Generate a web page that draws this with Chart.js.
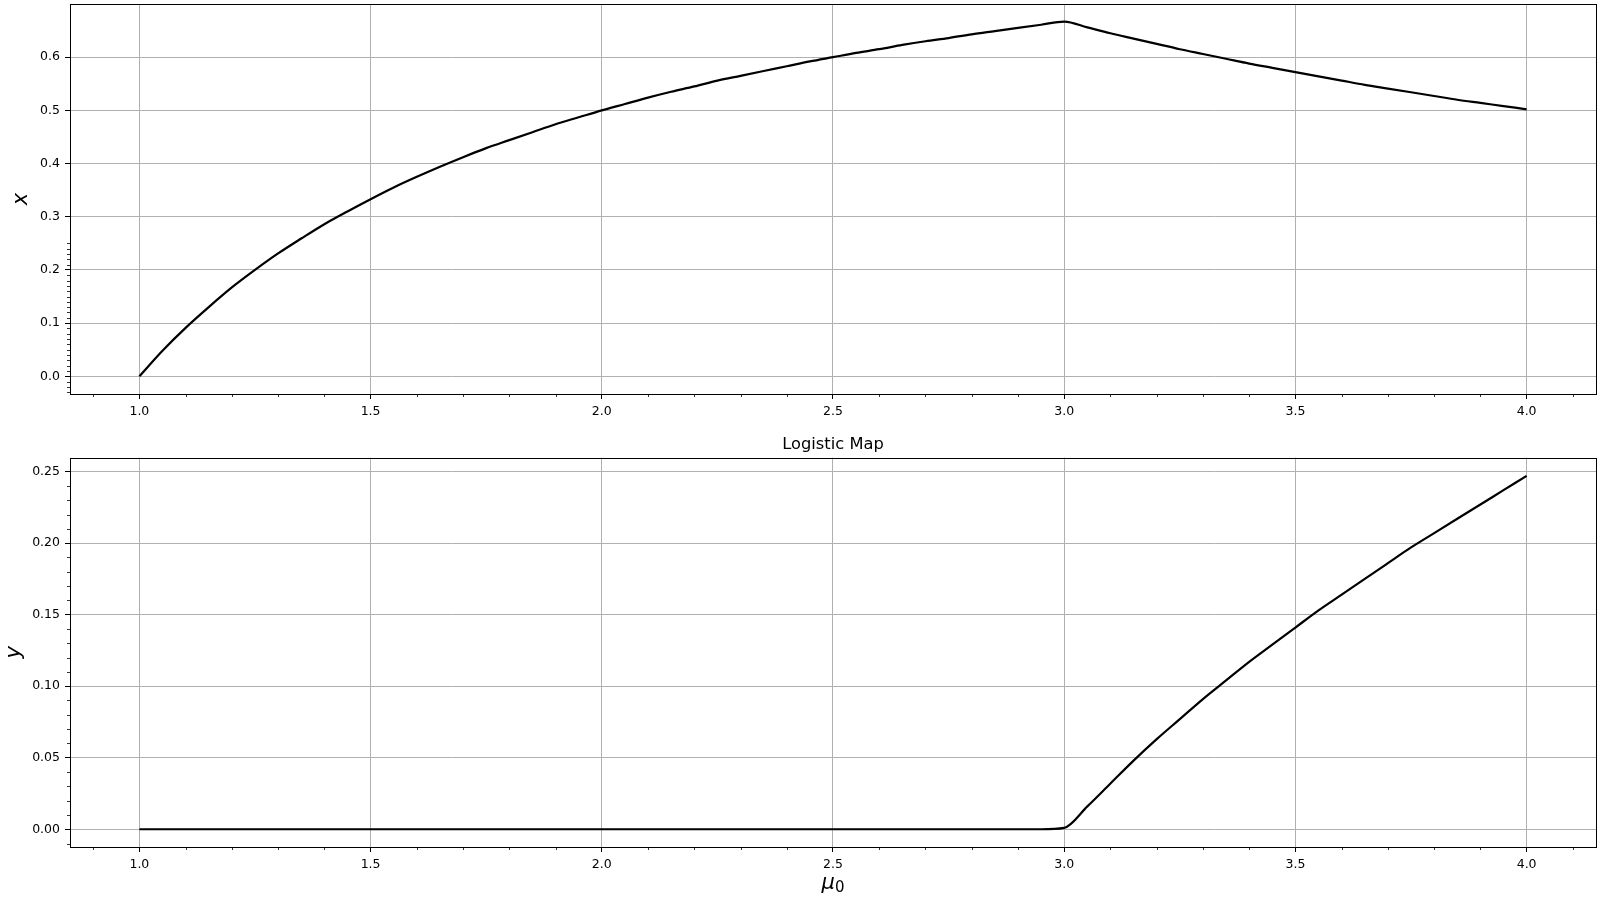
<!DOCTYPE html>
<html>
<head>
<meta charset="utf-8">
<script src="https://cdn.jsdelivr.net/npm/chart.js@4.4.1/dist/chart.umd.min.js"></script>
<style>
  html, body { margin: 0; padding: 0; background: #fff; }
  #wrap { position: relative; width: 1600px; height: 900px; }
  canvas { position: absolute; left: 0; }
  #topChart { top: 0; }
  #bottomChart { top: 420px; }
</style>
</head>
<body>
<div id="wrap">
  <canvas id="topChart" width="1600" height="420"></canvas>
  <canvas id="bottomChart" width="1600" height="480"></canvas>
</div>
<script>
// mu_0 samples
const mu = [
  1.00, 1.05, 1.10, 1.15, 1.20, 1.25, 1.30, 1.35, 1.40, 1.45,
  1.50, 1.55, 1.60, 1.65, 1.70, 1.75, 1.80, 1.85, 1.90, 1.95,
  2.00, 2.05, 2.10, 2.15, 2.20, 2.25, 2.30, 2.35, 2.40, 2.45,
  2.50, 2.55, 2.60, 2.65, 2.70, 2.75, 2.80, 2.85, 2.90, 2.95,
  3.00, 3.05, 3.10, 3.15, 3.20, 3.25, 3.30, 3.35, 3.40, 3.45,
  3.50, 3.55, 3.60, 3.65, 3.70, 3.75, 3.80, 3.85, 3.90, 3.95,
  4.00
];
// top panel (x)
const xValues = [
  0.000, 0.048, 0.091, 0.130, 0.167, 0.200, 0.231, 0.259, 0.286, 0.310,
  0.333, 0.355, 0.375, 0.394, 0.412, 0.429, 0.444, 0.459, 0.474, 0.487,
  0.500, 0.512, 0.524, 0.535, 0.545, 0.556, 0.565, 0.574, 0.583, 0.592,
  0.600, 0.608, 0.615, 0.623, 0.630, 0.636, 0.643, 0.649, 0.655, 0.661,
  0.667, 0.656, 0.645, 0.635, 0.625, 0.615, 0.606, 0.597, 0.588, 0.580,
  0.572, 0.564, 0.556, 0.548, 0.541, 0.534, 0.527, 0.520, 0.514, 0.508,
  0.502
];
// bottom panel (y)
const yValues = [
  0, 0, 0, 0, 0, 0, 0, 0, 0, 0,
  0, 0, 0, 0, 0, 0, 0, 0, 0, 0,
  0, 0, 0, 0, 0, 0, 0, 0, 0, 0,
  0, 0, 0, 0, 0, 0, 0, 0, 0, 0,
  0.001, 0.016, 0.032, 0.048, 0.063, 0.077, 0.091, 0.104, 0.117, 0.129,
  0.141, 0.153, 0.164, 0.175, 0.186, 0.197, 0.207, 0.217, 0.227, 0.237,
  0.247
];

const muTicks = [1.0, 1.5, 2.0, 2.5, 3.0, 3.5, 4.0];
const xTicks = [0.0, 0.1, 0.2, 0.3, 0.4, 0.5, 0.6];
const yTicks = [0.00, 0.05, 0.10, 0.15, 0.20, 0.25];

const muLabel = ['μ', '0'];   // mu with subscript 0

Chart.defaults.font.family = "'DejaVu Sans', sans-serif";
Chart.defaults.color = '#000';

function minorTicks(from, to, step, majorStep) {
  const out = [];
  const every = Math.round(majorStep / step);
  for (let i = Math.round(from / step); i <= Math.round(to / step); i++) {
    if (i % every !== 0) out.push(i * step);
  }
  return out;
}

// spines + minor ticks, matplotlib style
const framePlugin = {
  id: 'frame',
  afterDraw(chart, args, opts) {
    const { ctx, chartArea: a, scales } = chart;
    ctx.save();
    ctx.strokeStyle = '#000';
    ctx.lineWidth = 0.8;
    ctx.beginPath();
    opts.xMinor.forEach(v => {
      const px = Math.round(scales.x.getPixelForValue(v)) + 0.5;
      ctx.moveTo(px, a.bottom);
      ctx.lineTo(px, a.bottom + 3);
    });
    opts.yMinor.forEach(v => {
      const py = Math.round(scales.y.getPixelForValue(v)) + 0.5;
      ctx.moveTo(a.left, py);
      ctx.lineTo(a.left - 3, py);
    });
    ctx.stroke();
    ctx.lineWidth = 1;
    ctx.strokeRect(Math.round(a.left) + 0.5, Math.round(a.top) + 0.5,
                   Math.round(a.right - a.left), Math.round(a.bottom - a.top));

    if (opts.subLabel) {
      const cx = (a.left + a.right) / 2;
      const base = chart.height - 11;
      ctx.fillStyle = '#000';
      ctx.textBaseline = 'alphabetic';
      ctx.textAlign = 'left';
      const bigFont = "italic 21px 'DejaVu Sans'";
      const smallFont = "15px 'DejaVu Sans'";
      ctx.font = bigFont;
      const w1 = ctx.measureText(opts.subLabel[0]).width;
      ctx.font = smallFont;
      const w2 = ctx.measureText(opts.subLabel[1]).width;
      const x0 = cx - (w1 + w2) / 2;
      ctx.font = bigFont;
      ctx.fillText(opts.subLabel[0], x0, base);
      ctx.font = smallFont;
      ctx.fillText(opts.subLabel[1], x0 + w1, base + 3);
    }
    ctx.restore();
  }
};

const gridOpts = {
  color: '#b0b0b0', lineWidth: 1,
  tickColor: '#000', tickWidth: 1, tickLength: 5, drawTicks: true
};

function makeChart(id, values, cfg) {
  return new Chart(document.getElementById(id), {
    type: 'line',
    data: {
      datasets: [{
        data: mu.map((m, i) => ({ x: m, y: values[i] })),
        borderColor: '#000',
        borderWidth: 2.2,
        pointRadius: 0,
        cubicInterpolationMode: 'monotone',
        fill: false
      }]
    },
    options: {
      responsive: false,
      animation: false,
      devicePixelRatio: 1,
      layout: { padding: cfg.padding },
      plugins: {
        legend: { display: false },
        tooltip: { enabled: false },
        title: cfg.title,
        frame: { xMinor: minorTicks(0.9, 4.1, 0.1, 0.5), yMinor: cfg.yMinor, subLabel: cfg.subLabel }
      },
      scales: {
        x: {
          type: 'linear',
          min: 0.85, max: 4.15,
          afterBuildTicks: s => { s.ticks = muTicks.map(v => ({ value: v })); },
          afterFit: s => { s.height = cfg.xHeight; s.paddingLeft = 0; s.paddingRight = 0; },
          ticks: { callback: v => v.toFixed(1), padding: 5, font: { size: 12.5 }, maxRotation: 0, autoSkip: false },
          grid: gridOpts,
          border: { display: false }
        },
        y: {
          type: 'linear',
          min: cfg.yMin, max: cfg.yMax,
          afterBuildTicks: s => { s.ticks = cfg.yTicks.map(v => ({ value: v })); },
          afterFit: s => { s.width = 70; s.paddingTop = 0; s.paddingBottom = 0; },
          ticks: { callback: v => v.toFixed(cfg.yDigits), padding: 5, font: { size: 12.5 }, autoSkip: false },
          grid: gridOpts,
          border: { display: false },
          title: { display: true, text: cfg.yLabel, font: { size: 21, style: 'italic' }, padding: { top: cfg.yLabelPad, bottom: 0 } }
        }
      }
    },
    plugins: [framePlugin]
  });
}

makeChart('topChart', xValues, {
  padding: { top: 4, right: 4, left: 0, bottom: 0 },
  title: { display: false },
  xHeight: 26,
  yMin: -0.0333, yMax: 0.7,
  yTicks: xTicks, yDigits: 1,
  yMinor: minorTicks(-0.03, 0.25, 0.01, 0.1),
  yLabel: 'x', yLabelPad: 9.4
});

makeChart('bottomChart', yValues, {
  padding: { top: 1, right: 4, left: 0, bottom: 0 },
  title: {
    display: true, text: 'Logistic Map', fullSize: false,
    padding: { top: 14, bottom: 3 },
    font: { size: 16.3, weight: 'normal' }, color: '#000'
  },
  xHeight: 53,
  subLabel: muLabel,
  yMin: -0.0124, yMax: 0.2598,
  yTicks: yTicks, yDigits: 2,
  yMinor: minorTicks(-0.01, 0.25, 0.01, 0.05),
  yLabel: 'y', yLabelPad: 1.9
});
</script>
</body>
</html>
